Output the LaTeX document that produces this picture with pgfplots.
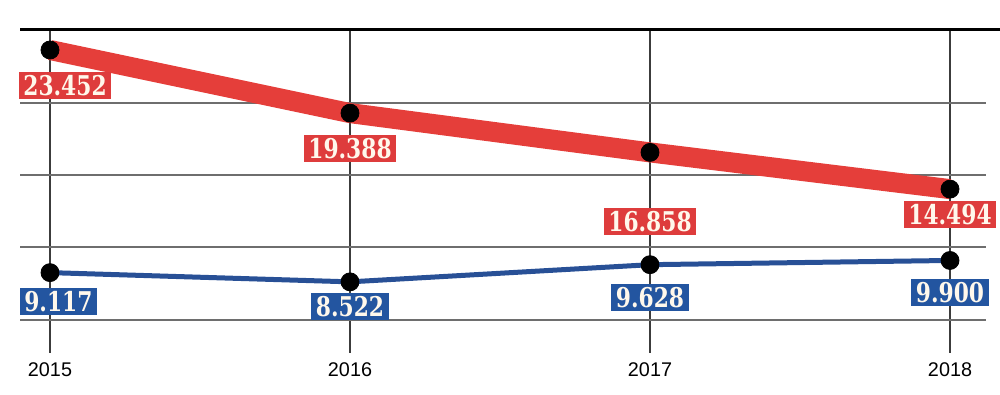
\documentclass[border=0pt]{standalone}
\usepackage{pgfplots}
\pgfplotsset{compat=1.18}
\usepackage{pgfplotstable}
\usepackage{fontspec}
\setmainfont{Liberation Sans}
\newfontfamily\labfont[FakeStretch=0.8]{DejaVu Serif}

\definecolor{redline}{RGB}{229,62,58}
\definecolor{redbox}{RGB}{222,60,60}
\definecolor{blueline}{RGB}{40,80,150}
\definecolor{bluebox}{RGB}{35,85,160}
\definecolor{labtext}{RGB}{255,248,236}

\pgfplotstableread{
year val lab dx dy
2015 23452 23.452 7.5 -17.75
2016 19388 19.388 0 -17.5
2017 16858 16.858 0 -34.5
2018 14494 14.494 0 -12.5
}\reddata

\pgfplotstableread{
year val lab dx dy
2015 9117 9.117 4.2 -14.5
2016 8522 8.522 0 -12.3
2017 9628 9.628 0 -16.5
2018 9900 9.900 0 -16.25
}\bluedata

\begin{document}
\begin{tikzpicture}
\begin{axis}[
  scale only axis,
  width=483pt, height=161.5pt,
  xmin=2014.9, xmax=2018.12,
  ymin=3941, ymax=24740,
  clip=false,
  scaled y ticks=false,
  axis line style={draw=none},
  major tick length=0pt,
  xtick={2015,2016,2017,2018},
  xticklabels={2015,2016,2017,2018},
  xticklabel style={font=\fontsize{9.9}{11}\selectfont, anchor=base, inner sep=0pt, yshift=-12pt},
  ytick={6066,10735,15403,20071},
  yticklabels={},
  xmajorgrids, ymajorgrids,
  x grid style={draw={rgb,255:red,60;green,60;blue,60}, line width=0.7pt},
  y grid style={draw={rgb,255:red,110;green,110;blue,110}, line width=1pt},
  nodes near coords,
  point meta=explicit symbolic,
  visualization depends on={\thisrow{dx} \as \lblx},
  visualization depends on={\thisrow{dy} \as \lbly},
]
\coordinate (bl) at (rel axis cs:0,0);
\coordinate (tr) at (rel axis cs:1,1);

\addplot[redline, line width=10pt, mark=*, mark size=4.5pt,
  mark options={draw=black, fill=black, line width=0.4pt},
  nodes near coords style={anchor=center, fill=redbox, text=labtext,
    font=\labfont\bfseries\fontsize{13.6}{14}\selectfont, inner xsep=2.25pt, inner ysep=1.75pt,
    text height=10pt, text depth=0pt, xshift=\lblx pt, yshift=\lbly pt}]
  table[x=year, y=val, meta=lab] {\reddata};

\addplot[blueline, line width=2.5pt, mark=*, mark size=4.5pt,
  mark options={draw=black, fill=black, line width=0.4pt},
  nodes near coords style={anchor=center, fill=bluebox, text=labtext,
    font=\labfont\bfseries\fontsize{13.6}{14}\selectfont, inner xsep=2.25pt, inner ysep=1.75pt,
    text height=10pt, text depth=0pt, xshift=\lblx pt, yshift=\lbly pt}]
  table[x=year, y=val, meta=lab] {\bluedata};
\end{axis}
\draw[black, line width=1.5pt] (bl |- tr) -- ([xshift=7pt]tr);
\pgfresetboundingbox
\path[use as bounding box] ([xshift=-10pt,yshift=-21pt]bl) rectangle ([xshift=7pt,yshift=15pt]tr);
\end{tikzpicture}
\end{document}
